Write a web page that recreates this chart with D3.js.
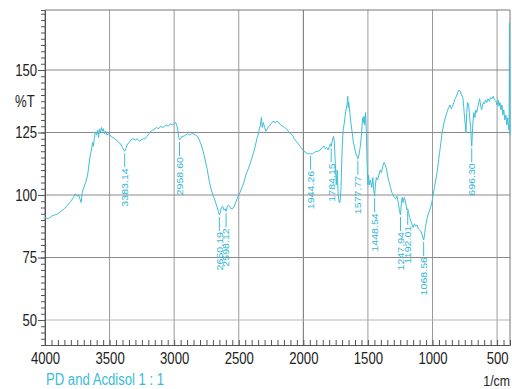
<!DOCTYPE html>
<html>
<head>
<meta charset="utf-8">
<script src="https://cdn.jsdelivr.net/npm/d3@7"></script>
<style>
  body { margin: 0; background: #fff; }
  svg { display: block; font-family: "Liberation Sans", Arial, sans-serif; }
</style>
</head>
<body>
<svg id="chart" width="512" height="389"></svg>
<script>
// IR spectrum, [wavenumber 1/cm, %T]
const spectrum = [
  [4000, 91], [3975, 90.5], [3950, 91.5], [3925, 92], [3900, 92.5], [3875, 93.5], [3850, 94.5], [3825, 96],
  [3800, 97.5], [3780, 99], [3765, 100.5], [3750, 99.5], [3740, 100], [3730, 98.5], [3720, 97], [3712, 101],
  [3700, 103], [3685, 105], [3670, 108], [3660, 112], [3650, 116], [3640, 118], [3632, 121], [3625, 119.5],
  [3618, 123], [3610, 125], [3600, 124], [3592, 126], [3585, 123], [3578, 126.5], [3570, 125], [3562, 127],
  [3555, 125.5], [3548, 126.5], [3540, 124.5], [3530, 125.5], [3520, 124], [3505, 124.5], [3490, 123.5],
  [3475, 123], [3460, 122.5], [3445, 122], [3430, 121], [3415, 120.5], [3400, 119], [3390, 118], [3383, 117.5],
  [3375, 118.5], [3365, 120], [3350, 121], [3335, 122], [3320, 122.5], [3300, 122], [3285, 122.5], [3270, 121.5],
  [3255, 122], [3240, 122.5], [3225, 122.5], [3210, 123.5], [3195, 124.5], [3180, 125.5], [3165, 126],
  [3150, 126.5], [3135, 127], [3120, 126.5], [3105, 127.5], [3090, 127], [3075, 127.5], [3060, 128],
  [3045, 127.5], [3030, 128.5], [3015, 128], [3000, 128.5], [2990, 129], [2980, 128], [2972, 126], [2965, 123],
  [2959, 122], [2950, 122.5], [2940, 123.5], [2925, 123.5], [2910, 124], [2895, 124.5], [2880, 124],
  [2865, 124.5], [2850, 124.5], [2835, 124], [2820, 123.5], [2805, 122], [2790, 120], [2775, 117.5], [2760, 114],
  [2745, 110.5], [2730, 106], [2715, 102.5], [2700, 100], [2685, 98], [2670, 95.5], [2658, 93.5], [2650, 92],
  [2642, 93], [2635, 95], [2625, 95.5], [2615, 94], [2605, 94.5], [2598, 93.5], [2590, 95], [2580, 96],
  [2570, 95.5], [2560, 94.5], [2548, 94.5], [2535, 95.5], [2520, 97.5], [2505, 99.5], [2490, 101], [2475, 103],
  [2460, 105], [2445, 108], [2430, 110], [2415, 112], [2400, 114.5], [2385, 117], [2370, 120], [2360, 122.5],
  [2350, 124], [2340, 126.5], [2332, 128], [2325, 131], [2318, 127], [2310, 129], [2300, 127], [2290, 125.5],
  [2280, 126.5], [2265, 127.5], [2250, 128.5], [2235, 129.5], [2220, 129], [2205, 129.5], [2190, 129],
  [2175, 128], [2160, 127.5], [2145, 127], [2130, 126.5], [2115, 125.5], [2100, 124.5], [2085, 124],
  [2070, 122.5], [2055, 121.5], [2040, 120.5], [2025, 119.5], [2010, 118.5], [1995, 117.5], [1980, 117],
  [1965, 116.5], [1950, 116.5], [1944, 116.5], [1930, 116.5], [1915, 117], [1900, 117.5], [1885, 117.5],
  [1870, 118], [1855, 119], [1840, 119.5], [1830, 118.5], [1820, 119], [1808, 118], [1798, 119.5], [1790, 120.5],
  [1784, 119.5], [1775, 122], [1766, 123.5], [1760, 121], [1752, 112], [1745, 104], [1738, 110], [1730, 100],
  [1722, 97], [1716, 97], [1708, 103], [1700, 118], [1692, 126], [1685, 128], [1678, 131], [1670, 134],
  [1662, 136], [1656, 139.5], [1652, 135], [1648, 137], [1640, 133], [1632, 129], [1622, 125], [1612, 121],
  [1600, 118], [1590, 116], [1580, 115], [1577, 114.5], [1570, 116], [1560, 119], [1550, 124], [1545, 128],
  [1540, 131], [1535, 129], [1530, 131.5], [1524, 128], [1518, 133], [1512, 125], [1506, 112], [1500, 104],
  [1495, 108], [1488, 104], [1480, 106], [1470, 103], [1462, 107], [1455, 102], [1448, 99.5], [1442, 104],
  [1435, 107], [1425, 106], [1415, 108], [1405, 110], [1395, 109], [1385, 111.5], [1375, 113], [1365, 112],
  [1355, 110], [1345, 107], [1335, 105], [1325, 103], [1315, 101], [1305, 100], [1295, 99], [1285, 98.5],
  [1275, 99.5], [1265, 97], [1255, 93.5], [1248, 92], [1242, 96], [1235, 99], [1228, 97], [1220, 99],
  [1212, 98], [1205, 96], [1198, 94], [1192, 94.5], [1185, 93], [1178, 91], [1170, 90], [1160, 88.5],
  [1150, 87], [1140, 88.5], [1130, 87.5], [1120, 88], [1110, 86.5], [1100, 86], [1090, 85.5], [1080, 84],
  [1072, 82.5], [1068, 82], [1062, 84], [1055, 87], [1045, 90], [1035, 92], [1025, 93.5], [1015, 95],
  [1005, 97], [995, 100], [985, 103], [975, 106], [965, 109], [955, 113], [945, 117], [935, 121], [925, 125],
  [915, 128], [905, 130], [895, 132], [885, 133.5], [875, 135], [865, 136], [855, 134.5], [845, 135.5],
  [835, 137], [825, 138.5], [815, 139.5], [805, 141], [795, 142], [785, 141.5], [775, 140], [765, 139],
  [758, 135], [752, 131], [746, 128], [741, 125], [735, 133], [728, 137], [720, 136], [712, 131], [705, 127],
  [700, 122], [696, 119.5], [692, 124], [686, 130], [680, 133], [672, 131], [665, 134], [658, 133], [650, 135],
  [642, 137], [635, 138.5], [628, 136], [620, 134], [612, 136], [605, 137], [598, 136.5], [590, 138], [580, 137],
  [570, 138.5], [560, 137.5], [550, 139], [540, 138.5], [530, 139.5], [520, 138], [510, 137.5], [500, 136],
  [492, 138], [485, 135.5], [478, 137], [470, 134], [462, 136], [455, 132], [448, 134], [440, 130], [432, 132],
  [425, 128], [418, 131], [412, 127], [407, 126], [404, 169], [400, 124]
];

// picked peaks
const peakWn = [3383.14, 2958.60, 2650.19, 2598.12, 1944.26, 1784.15, 1577.77, 1448.54, 1247.94, 1192.01, 1068.56, 696.30];
const peakT  = [117.5, 122, 92, 93.5, 116.5, 119.5, 114.5, 99.5, 92, 94.5, 82, 119.5];

const xTicks = [4000, 3500, 3000, 2500, 2000, 1500, 1000, 500];
const yTicks = [50, 75, 100, 125, 150];
const sampleName = 'PD and Acdisol 1 : 1';
const xUnit = '1/cm';
const yUnit = '%T';

const svg = d3.select('#chart');
const cyan = '#3dbfd9';
const margin = { left: 45, right: 510, top: 10, bottom: 345 };
const sq = 0.82; // the original type is tall and narrow

const x = d3.scaleLinear().domain([4000, 400]).range([margin.left, margin.right]);
const y = d3.scaleLinear().domain([40, 174]).range([margin.bottom, margin.top]);

// grid
svg.append('g').selectAll('line')
    .data(xTicks.slice(1))
    .enter()
    .append('line')
        .attr('x1', d => x(d)).attr('x2', d => x(d))
        .attr('y1', margin.top).attr('y2', margin.bottom)
        .style('stroke', d => d == 2000 ? '#6e6e6e' : '#9a9a9a');

svg.append('g').selectAll('line')
    .data(yTicks)
    .enter()
    .append('line')
        .attr('x1', margin.left).attr('x2', margin.right)
        .attr('y1', d => y(d)).attr('y2', d => y(d))
        .style('stroke', d => d == 50 ? '#b5b5b5' : '#8a8a8a');

// frame
svg.append('path')
    .attr('d', `M${margin.left},${margin.bottom}V${margin.top}H${margin.right}V${margin.bottom}`)
    .attr('fill', 'none')
    .style('stroke', '#777');

// y axis
const yAxis = svg.append('g')
    .attr('transform', `translate(${margin.left},0)`)
    .call(d3.axisLeft(y).tickValues(d3.range(42.5, 174, 2.5)).tickSize(4).tickFormat(''));
yAxis.select('.domain').attr('stroke', '#555');
yAxis.selectAll('.tick line').attr('stroke', '#555');

svg.append('g')
    .attr('transform', `translate(${margin.left},0)`)
    .call(d3.axisLeft(y).tickValues(yTicks).tickSize(7).tickPadding(1))
    .call(g => g.select('.domain').remove())
    .call(g => g.selectAll('.tick line').attr('stroke', '#555'))
    .call(g => g.selectAll('text')
        .attr('x', -8 / sq)
        .attr('transform', `scale(${sq},1)`)
        .attr('fill', '#222')
        .style('font-size', '16px'));

svg.append('text')
    .attr('transform', `translate(15,${y(137.5)}) scale(${sq},1)`)
    .attr('dy', '0.35em')
    .attr('fill', '#222')
    .style('font-size', '16px')
    .text(yUnit);

// x axis, ticks point up into the plot
const xAxis = svg.append('g')
    .attr('transform', `translate(0,${margin.bottom})`)
    .call(d3.axisTop(x).tickValues(d3.range(4000, 399, -50)).tickSize(5).tickFormat(''));
xAxis.select('.domain').attr('stroke', '#555');
xAxis.selectAll('.tick line').attr('stroke', '#555');

svg.append('g')
    .attr('transform', `translate(0,${margin.bottom})`)
    .call(d3.axisBottom(x).tickValues(xTicks).tickSize(0).tickPadding(8).tickFormat(d3.format('d')))
    .call(g => g.select('.domain').remove())
    .call(g => g.selectAll('text')
        .attr('transform', `scale(${sq},1)`)
        .attr('fill', '#222')
        .style('font-size', '16px'));

svg.append('text')
    .attr('transform', `translate(46,385) scale(${sq},1)`)
    .attr('fill', '#38bcd8')
    .style('font-size', '16px')
    .text(sampleName);

svg.append('text')
    .attr('transform', `translate(${margin.right},386) scale(${sq},1)`)
    .attr('text-anchor', 'end')
    .attr('fill', '#222')
    .style('font-size', '15px')
    .text(xUnit);

// spectrum
const line = d3.line()
    .x(d => x(d[0]))
    .y(d => y(d[1]));

svg.append('path')
    .datum(spectrum)
    .attr('d', line)
    .attr('fill', 'none')
    .attr('stroke', cyan)
    .attr('stroke-width', 1)
    .attr('stroke-linejoin', 'round');

// peak labels: short drop line, then the number reading upwards
const peaks = peakWn.map((w, i) => ({ w: w, t: peakT[i] }));
const pg = svg.append('g').selectAll('g')
    .data(peaks)
    .enter()
    .append('g')
        .attr('transform', d => `translate(${x(d.w)},${y(d.t)})`);

pg.append('line')
    .attr('x1', 0).attr('x2', 0)
    .attr('y1', 2).attr('y2', 16)
    .attr('stroke', cyan);

pg.append('text')
    .attr('transform', 'translate(0,17) rotate(-90) scale(1.12,1)')
    .attr('text-anchor', 'end')
    .attr('dy', '0.35em')
    .attr('fill', '#2fb6d4')
    .style('font-size', '9.5px')
    .text(d => d.w.toFixed(2));
</script>
</body>
</html>
